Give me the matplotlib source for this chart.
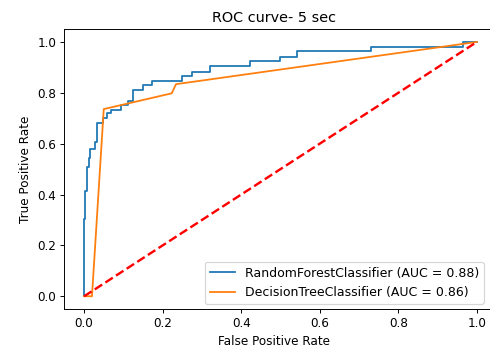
import matplotlib
matplotlib.use("Agg")
import matplotlib.pyplot as plt

# ROC corner points
rf_fpr = [0, 0, 0.002, 0.002, 0.008, 0.008, 0.013, 0.013, 0.016, 0.016,
          0.027, 0.027, 0.033, 0.033, 0.048, 0.048, 0.057, 0.057, 0.069, 0.069,
          0.094, 0.094, 0.112, 0.112, 0.125, 0.125, 0.15, 0.15, 0.172, 0.172,
          0.249, 0.249, 0.274, 0.274, 0.321, 0.321, 0.422, 0.422, 0.499, 0.499,
          0.541, 0.541, 0.73, 0.73, 0.964, 0.964, 1.0]
rf_tpr = [0, 0.304, 0.304, 0.414, 0.414, 0.51, 0.51, 0.544, 0.544, 0.58,
          0.58, 0.608, 0.608, 0.68, 0.68, 0.70, 0.70, 0.72, 0.72, 0.733,
          0.733, 0.752, 0.752, 0.768, 0.768, 0.81, 0.81, 0.83, 0.83, 0.848,
          0.848, 0.866, 0.866, 0.883, 0.883, 0.907, 0.907, 0.926, 0.926, 0.942,
          0.942, 0.965, 0.965, 0.982, 0.982, 1.0, 1.0]

dt_fpr = [0, 0.02, 0.05, 0.223, 0.234, 1.0]
dt_tpr = [0, 0, 0.736, 0.798, 0.834, 1.0]

rf_auc = 0.88
dt_auc = 0.86

DPI = 86
fig = plt.figure(figsize=(490 / DPI, 351 / DPI), dpi=DPI)
ax = fig.add_axes([0.1316, 0.1197, 0.8816, 0.797])

ax.plot(rf_fpr, rf_tpr, label=f"RandomForestClassifier (AUC = {rf_auc:.2f})")
ax.plot(dt_fpr, dt_tpr, label=f"DecisionTreeClassifier (AUC = {dt_auc:.2f})")
ax.plot([0, 1], [0, 1], "r--", lw=2)

ax.set_xlabel("False Positive Rate", x=0.485)
ax.set_ylabel("True Positive Rate")
ax.set_title("ROC curve- 5 sec", x=0.485)
ax.legend(loc="lower right", bbox_to_anchor=(0.971, 0.018), borderaxespad=0,
          fontsize=10.5)

fig.savefig("out.png", dpi=DPI)
